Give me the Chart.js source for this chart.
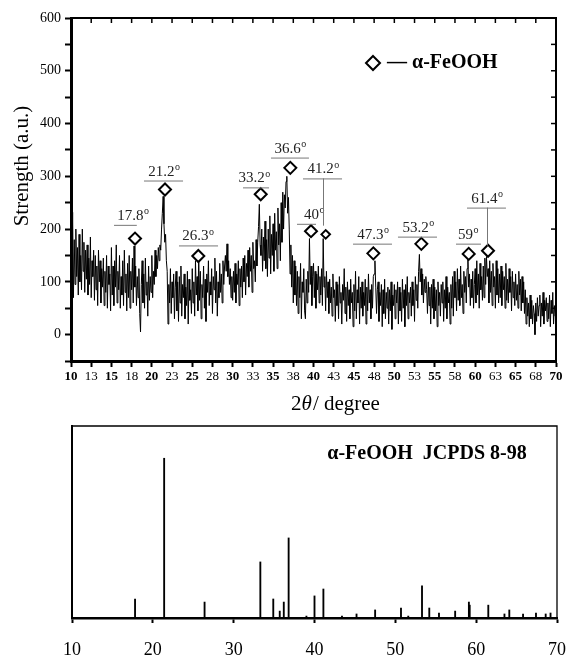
<!DOCTYPE html>
<html>
<head>
<meta charset="utf-8">
<script src="https://cdn.jsdelivr.net/npm/chart.js@4.4.0/dist/chart.umd.min.js"></script>
<style>
  html, body { margin: 0; padding: 0; background: #fff; }
  #wrap { position: relative; width: 569px; height: 658px; }
  #scan { position: absolute; left: 0; top: 0; }
  #ref { position: absolute; left: 0; top: 420px; }
</style>
</head>
<body>
<div id="wrap">
  <canvas id="scan" width="569" height="420"></canvas>
  <canvas id="ref" width="569" height="238"></canvas>
</div>
<script>
// measured XRD scan, 10-70 deg, one reading per 0.1 deg
const scanStart = 10;
const scanStep = 0.1;
const scanCounts = [
  150, 90, 232, 70, 180, 95, 200, 110, 165, 75,
  190, 100, 150, 85, 200, 120, 175, 80, 160, 105,
  170, 75, 145, 95, 185, 70, 140, 110, 160, 65,
  150, 85, 130, 55, 160, 100, 140, 60, 125, 90,
  145, 55, 120, 80, 150, 50, 130, 95, 115, 45,
  165, 75, 130, 55, 140, 90, 170, 60, 120, 85,
  150, 50, 110, 75, 140, 55, 160, 80, 115, 45,
  135, 70, 150, 50, 120, 85, 145, 60, 168, 90,
  130, 55, 110, 70, 125, 40, 5, 95, 140, 60,
  115, 50, 145, 75, 100, 35, 130, 65, 110, 80,
  150, 70, 120, 95, 160, 110, 150, 125, 165, 140,
  170, 160, 200, 230, 262, 210, 175, 190, 140, 120,
  20, 95, 60, 125, 40, 100, 70, 115, 30, 90,
  120, 45, 100, 25, 110, 60, 130, 35, 95, 70,
  115, 30, 90, 55, 120, 20, 105, 65, 85, 40,
  125, 60, 100, 35, 140, 75, 110, 45, 150, 65,
  120, 30, 95, 70, 130, 50, 105, 25, 115, 80,
  140, 55, 100, 75, 125, 40, 110, 85, 145, 60,
  120, 35, 100, 70, 135, 80, 115, 60, 140, 95,
  130, 150, 120, 172, 110, 140, 95, 125, 70, 110,
  65, 120, 80, 135, 60, 115, 95, 140, 55, 125,
  90, 130, 70, 145, 100, 150, 75, 135, 110, 160,
  90, 165, 120, 150, 80, 175, 125, 140, 100, 180,
  130, 175, 205, 247, 170, 150, 200, 120, 185, 140,
  215, 125, 180, 110, 200, 145, 225, 115, 190, 150,
  210, 120, 230, 160, 195, 125, 240, 170, 210, 140,
  250, 175, 270, 200, 265, 240, 290, 300, 230, 260,
  200, 115, 170, 90, 150, 60, 140, 75, 130, 55,
  120, 40, 110, 70, 135, 30, 100, 80, 125, 45,
  30, 105, 60, 120, 80, 182, 95, 130, 55, 110,
  135, 70, 120, 50, 115, 85, 130, 60, 110, 75,
  125, 55, 182, 90, 110, 45, 120, 70, 100, 40,
  105, 60, 90, 35, 115, 70, 85, 25, 100, 55,
  95, 30, 110, 60, 80, 20, 95, 65, 125, 40,
  90, 25, 100, 55, 85, 30, 105, 60, 80, 15,
  95, 45, 120, 30, 85, 60, 110, 20, 90, 50,
  100, 35, 80, 55, 105, 20, 90, 45, 115, 60,
  85, 30, 95, 50, 110, 115, 140, 90, 40, 85,
  100, 25, 80, 55, 95, 15, 85, 40, 105, 30,
  80, 50, 90, 20, 85, 45, 100, 10, 75, 55,
  95, 30, 85, 60, 100, 20, 90, 45, 80, 25,
  105, 50, 85, 15, 95, 55, 110, 30, 80, 60,
  90, 35, 100, 55, 85, 25, 110, 65, 95, 50,
  120, 152, 100, 125, 75, 115, 60, 105, 80, 110,
  85, 40, 100, 55, 90, 20, 95, 50, 105, 30,
  90, 45, 85, 15, 100, 55, 80, 35, 95, 60,
  100, 25, 85, 50, 110, 30, 90, 60, 80, 20,
  95, 50, 110, 35, 120, 70, 100, 45, 125, 65,
  105, 55, 130, 70, 95, 40, 120, 80, 110, 60,
  125, 147, 90, 115, 55, 105, 70, 120, 50, 95,
  125, 60, 140, 75, 115, 50, 135, 85, 110, 65,
  130, 70, 145, 95, 148, 110, 125, 60, 140, 80,
  120, 55, 135, 90, 110, 50, 140, 75, 125, 60,
  115, 70, 130, 55, 120, 85, 110, 50, 135, 65,
  105, 60, 125, 80, 110, 45, 120, 70, 100, 55,
  115, 65, 95, 50, 120, 75, 105, 45, 110, 60,
  100, 40, 85, 20, 70, 35, 60, 15, 75, 30,
  65, 20, 55, 40, 0, 60, 25, 70, 35, 55,
  75, 15, 60, 35, 80, 20, 65, 45, 70, 25,
  60, 30, 75, 15, 65, 40, 80, 20, 55, 35,
  50
];

// diamond markers (2theta, counts) and their labels
const peakAngles = [17.92, 21.63, 25.75, 33.47, 37.13, 39.69, 41.51, 47.4, 53.34, 59.2, 61.59];
const peakMarks  = [182, 275, 149, 266, 316, 196, 190, 154, 172, 153, 159];
const peakLabels = ['17.8', '21.2', '26.3', '33.2', '36.6', '40', '41.2', '47.3', '53.2', '59', '61.4'];
// label anchors in data units: text centre, underline span and level, drop line end
const labelCentre = [17.67, 21.5, 25.7, 32.64, 37.1, 40.06, 41.18, 47.36, 52.93, 59.1, 61.46];
const lineFrom  = [15.32, 19.03, 23.36, 31.28, 34.74, 37.96, 38.7, 44.89, 50.45, 57.63, 58.99];
const lineTo    = [18.14, 23.86, 28.19, 34.5, 39.44, 40.31, 43.53, 49.71, 55.28, 60.72, 63.81];
const lineLevel = [208, 292, 169, 279, 335.5, 210, 296, 172.4, 185.7, 172.4, 240.7];
const dropTo    = [null, null, null, null, null, null, 206.5, null, null, null, 168.7];

// JCPDS 8-98 reference lines
const refAngles = [17.8, 21.4, 26.4, 33.3, 34.9, 35.7, 36.2, 36.8, 39.0, 40.0, 41.1, 43.4, 45.2, 47.5,
  50.7, 51.6, 53.3, 54.2, 55.4, 57.4, 59.1, 59.2, 61.5, 63.5, 64.1, 65.8, 67.4, 68.6, 69.2];
const refIntensity = [9.9, 83.2, 8.3, 29.2, 9.9, 3.6, 8.3, 41.7, 1, 11.5, 15.1, 1, 2.1, 4.2,
  5.2, 1, 16.7, 5.2, 2.6, 3.6, 8.3, 6.7, 6.7, 2.1, 4.2, 2.1, 2.6, 2.1, 2.6];

const serif = "'Liberation Serif', 'Times New Roman', serif";

function diamond(ctx, x, y, r) {
  ctx.beginPath();
  ctx.moveTo(x, y - r);
  ctx.lineTo(x + r, y);
  ctx.lineTo(x, y + r);
  ctx.lineTo(x - r, y);
  ctx.closePath();
  ctx.fillStyle = '#fff';
  ctx.fill();
  ctx.stroke();
}

function degreeText(ctx, text, cx, cy) {
  ctx.font = `15px ${serif}`;
  const wMain = ctx.measureText(text).width;
  ctx.font = `10px ${serif}`;
  const wSup = ctx.measureText('o').width;
  const left = cx - (wMain + wSup) / 2;
  ctx.textAlign = 'left';
  ctx.textBaseline = 'alphabetic';
  ctx.fillStyle = '#222';
  ctx.font = `15px ${serif}`;
  ctx.fillText(text, left, cy + 5);
  ctx.font = `10px ${serif}`;
  ctx.fillText('o', left + wMain + 0.5, cy - 0.5);
}

const scanDecor = {
  id: 'scanDecor',
  afterDraw(chart) {
    const { ctx, chartArea: a, scales: { x, y } } = chart;
    ctx.save();

    // frame and inward ticks on top / right
    ctx.strokeStyle = '#000';
    ctx.lineWidth = 2;
    ctx.beginPath();
    ctx.moveTo(a.left, a.top);
    ctx.lineTo(a.right, a.top);
    ctx.lineTo(a.right, a.bottom);
    ctx.stroke();
    ctx.lineWidth = 1.5;
    x.ticks.forEach(t => {
      const px = x.getPixelForValue(t.value);
      ctx.beginPath(); ctx.moveTo(px, a.top); ctx.lineTo(px, a.top + 5); ctx.stroke();
    });
    y.ticks.forEach(t => {
      const py = y.getPixelForValue(t.value);
      ctx.beginPath(); ctx.moveTo(a.right, py); ctx.lineTo(a.right - 5, py); ctx.stroke();
    });

    // peak labels
    peakLabels.forEach((lab, i) => {
      const ly = y.getPixelForValue(lineLevel[i]);
      ctx.strokeStyle = '#777';
      ctx.lineWidth = 1;
      ctx.beginPath();
      ctx.moveTo(x.getPixelForValue(lineFrom[i]), ly + 0.5);
      ctx.lineTo(x.getPixelForValue(lineTo[i]), ly + 0.5);
      ctx.stroke();
      if (dropTo[i] !== null) {
        const dx = Math.round(x.getPixelForValue(labelCentre[i])) + 0.5;
        ctx.beginPath();
        ctx.moveTo(dx, ly);
        ctx.lineTo(dx, y.getPixelForValue(dropTo[i]));
        ctx.stroke();
      }
      degreeText(ctx, lab, x.getPixelForValue(labelCentre[i]), ly - 10);
    });

    // legend
    ctx.strokeStyle = '#000';
    ctx.lineWidth = 2;
    diamond(ctx, 373, 63, 7);
    ctx.fillStyle = '#000';
    ctx.font = `bold 20px ${serif}`;
    ctx.textAlign = 'left';
    ctx.textBaseline = 'middle';
    ctx.fillText('\u2014 \u03b1-FeOOH', 387, 63);

    // axis titles
    ctx.font = `21px ${serif}`;
    ctx.textAlign = 'center';
    ctx.save();
    ctx.translate(22, 166);
    ctx.rotate(-Math.PI / 2);
    ctx.fillText('Strength (a.u.)', 0, 0);
    ctx.restore();

    const p1 = '2', p2 = '\u03b8', p3 = '/ degree';
    ctx.font = `21px ${serif}`;
    const w1 = ctx.measureText(p1).width, w3 = ctx.measureText(p3).width;
    ctx.font = `italic 21px ${serif}`;
    const w2 = ctx.measureText(p2).width;
    let tx = 335 - (w1 + w2 + w3) / 2;
    ctx.textAlign = 'left';
    ctx.font = `21px ${serif}`;
    ctx.fillText(p1, tx, 404);
    tx += w1;
    ctx.font = `italic 21px ${serif}`;
    ctx.fillText(p2, tx, 404);
    tx += w2 + 1;
    ctx.font = `21px ${serif}`;
    ctx.fillText(p3, tx, 404);

    ctx.restore();
  }
};

new Chart(document.getElementById('scan'), {
  type: 'line',
  data: {
    datasets: [
      {
        label: 'markers',
        data: peakAngles.map((a, i) => ({ x: a, y: peakMarks[i] })),
        showLine: false,
        pointStyle: 'rectRot',
        pointRadius: peakLabels.map(l => l === '41.2' ? 4.3 : 6),
        pointBorderWidth: 2,
        pointBorderColor: '#000',
        pointBackgroundColor: '#fff'
      },
      {
        label: 'scan',
        data: scanCounts.map((c, i) => ({ x: scanStart + i * scanStep, y: c })),
        borderColor: '#000',
        borderWidth: 1,
        pointRadius: 0,
        tension: 0
      }
    ]
  },
  options: {
    responsive: false,
    animation: false,
    layout: { padding: { top: 18, right: 13, left: 0, bottom: 0 } },
    plugins: { legend: { display: false }, tooltip: { enabled: false } },
    scales: {
      x: {
        type: 'linear',
        min: 10,
        max: 70,
        ticks: {
          stepSize: 2.5,
          autoSkip: false,
          maxRotation: 0,
          padding: 2,
          color: '#000',
          callback: v => Math.round(v),
          font: c => ({ family: serif, size: 13, weight: c.tick && c.tick.value % 5 === 0 ? 'bold' : 'normal' })
        },
        grid: { drawOnChartArea: false, tickLength: 6, tickWidth: 2, color: '#000' },
        border: { width: 3, color: '#000' },
        afterFit: s => { s.height = 59; }
      },
      y: {
        min: -50,
        max: 600,
        ticks: {
          stepSize: 50,
          padding: 4,
          color: '#000',
          font: { family: serif, size: 14 },
          callback: v => (v >= 0 && v % 100 === 0) ? v : ''
        },
        grid: { drawOnChartArea: false, tickLength: 6, tickWidth: 2, color: '#000' },
        border: { width: 3, color: '#000' },
        afterFit: s => { s.width = 71; }
      }
    }
  },
  plugins: [scanDecor]
});

const refDecor = {
  id: 'refDecor',
  afterDraw(chart) {
    const { ctx, chartArea: a } = chart;
    ctx.save();
    ctx.strokeStyle = '#000';
    ctx.lineWidth = 1.3;
    ctx.beginPath();
    ctx.moveTo(a.left, a.top);
    ctx.lineTo(a.right, a.top);
    ctx.lineTo(a.right, a.bottom);
    ctx.stroke();
    ctx.fillStyle = '#000';
    ctx.font = `bold 20px ${serif}`;
    ctx.textAlign = 'center';
    ctx.textBaseline = 'middle';
    ctx.fillText('\u03b1-FeOOH  JCPDS 8-98', 427, 34);
    ctx.restore();
  }
};

new Chart(document.getElementById('ref'), {
  type: 'bar',
  data: {
    datasets: [{
      data: refAngles.map((a, i) => ({ x: a, y: refIntensity[i] })),
      backgroundColor: '#000',
      borderWidth: 0,
      barThickness: 1.2
    }]
  },
  options: {
    responsive: false,
    animation: false,
    layout: { padding: { top: 6, right: 12, left: 0, bottom: 0 } },
    plugins: { legend: { display: false }, tooltip: { enabled: false } },
    scales: {
      x: {
        type: 'linear',
        min: 10,
        max: 70,
        offset: false,
        ticks: { stepSize: 10, color: '#000', font: { family: serif, size: 18 }, padding: 16, maxRotation: 0 },
        grid: { offset: false, drawOnChartArea: false, tickLength: 5, tickWidth: 2, color: '#000' },
        border: { width: 2.5, color: '#000' },
        afterFit: s => { s.height = 40; s.paddingLeft = 0; s.paddingRight = 0; }
      },
      y: {
        min: 0,
        max: 100,
        ticks: { display: false },
        grid: { display: false },
        border: { width: 2, color: '#000' },
        afterFit: s => { s.width = 72; }
      }
    }
  },
  plugins: [refDecor]
});
</script>
</body>
</html>
